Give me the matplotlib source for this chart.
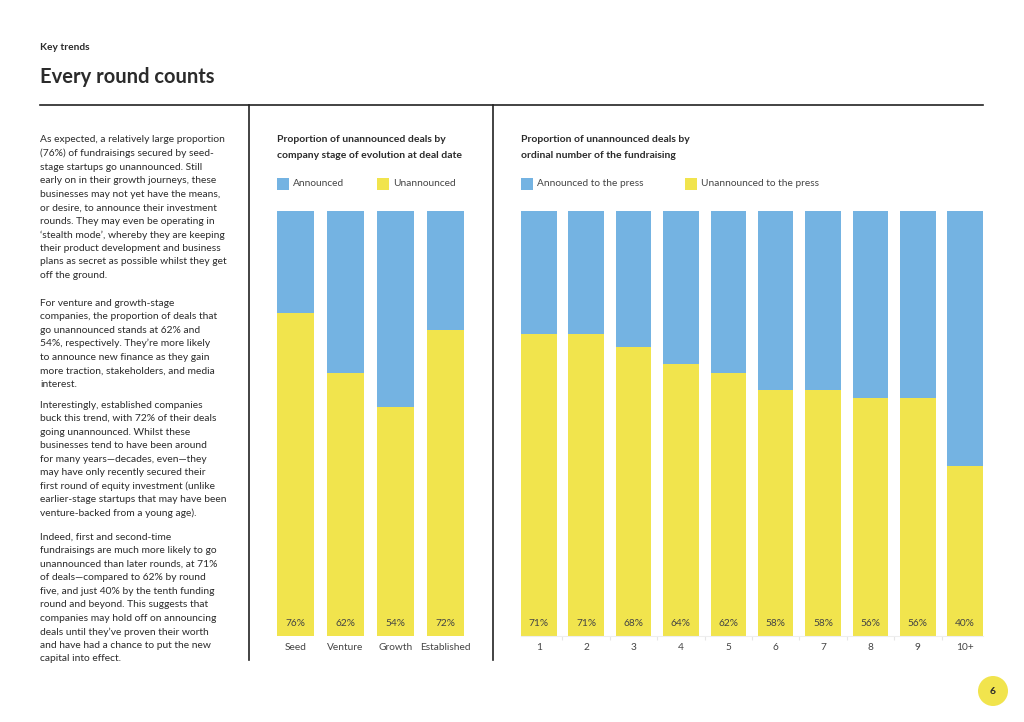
import matplotlib.pyplot as plt
from matplotlib.patches import Rectangle, Ellipse
from matplotlib.lines import Line2D
import numpy as np

plt.rcParams['font.family'] = ['Lato', 'DejaVu Sans']

W, H = 1024, 722
BLUE = '#74b3e2'
YELLOW = '#f1e44d'
TXT = '#2b2b2b'

# data
stages = ['Seed', 'Venture', 'Growth', 'Established']
stage_unannounced = [76, 62, 54, 72]
rounds = ['1', '2', '3', '4', '5', '6', '7', '8', '9', '10+']
round_unannounced = [71, 71, 68, 64, 62, 58, 58, 56, 56, 40]

para1 = ["As expected, a relatively large proportion",
         "(76%) of fundraisings secured by seed-",
         "stage startups go unannounced. Still",
         "early on in their growth journeys, these",
         "businesses may not yet have the means,",
         "or desire, to announce their investment",
         "rounds. They may even be operating in",
         "\u2018stealth mode\u2019, whereby they are keeping",
         "their product development and business",
         "plans as secret as possible whilst they get",
         "off the ground."]
para2 = ["For venture and growth-stage",
         "companies, the proportion of deals that",
         "go unannounced stands at 62% and",
         "54%, respectively. They\u2019re more likely",
         "to announce new finance as they gain",
         "more traction, stakeholders, and media",
         "interest."]
para3 = ["Interestingly, established companies",
         "buck this trend, with 72% of their deals",
         "going unannounced. Whilst these",
         "businesses tend to have been around",
         "for many years\u2014decades, even\u2014they",
         "may have only recently secured their",
         "first round of equity investment (unlike",
         "earlier-stage startups that may have been",
         "venture-backed from a young age)."]
para4 = ["Indeed, first and second-time",
         "fundraisings are much more likely to go",
         "unannounced than later rounds, at 71%",
         "of deals\u2014compared to 62% by round",
         "five, and just 40% by the tenth funding",
         "round and beyond. This suggests that",
         "companies may hold off on announcing",
         "deals until they\u2019ve proven their worth",
         "and have had a chance to put the new",
         "capital into effect."]


def fx(x):
    return x / W


def fy(y):
    return 1 - y / H


def ptext(x, y, s, **kw):
    kw.setdefault('color', TXT)
    kw.setdefault('va', 'center')
    fig.text(fx(x), fy(y), s, **kw)


fig = plt.figure(figsize=(W / 100, H / 100), dpi=100)
fig.patch.set_facecolor('white')

# header
ptext(40, 47, 'Key trends', fontsize=7.3, fontweight='bold')
ptext(40, 77, 'Every round counts', fontsize=14.5, fontweight='bold')
fig.add_artist(Line2D([fx(40), fx(983)], [fy(105), fy(105)], color='#222222', lw=1.2))
for vx in [249, 493]:
    fig.add_artist(Line2D([fx(vx), fx(vx)], [fy(105), fy(660)], color='#222222', lw=1.2))

# body text
for start, lines in [(140, para1), (303, para2), (405, para3), (537, para4)]:
    for i, line in enumerate(lines):
        ptext(40, start + i * 13.55, line, fontsize=7.4)


def legend(y, labels, xs):
    for lab, col, lx in zip(labels, [BLUE, YELLOW], xs):
        fig.add_artist(Rectangle((fx(lx), fy(y + 6)), 12 / W, 12 / H,
                                 transform=fig.transFigure, facecolor=col, edgecolor='none'))
        ptext(lx + 16, y, lab, fontsize=7.3, color='#444444')


def chart(left, right, cats, unann, width, title, baseline=False):
    ax = fig.add_axes([fx(left), fy(636), (right - left) / W, 425 / H])
    x = np.arange(len(cats))
    ann = [100 - v for v in unann]
    ax.bar(x, unann, width=width, color=YELLOW, zorder=2)
    ax.bar(x, ann, bottom=unann, width=width, color=BLUE, zorder=2)
    for xi, v in zip(x, unann):
        ax.text(xi, 2.9, f'{v}%', ha='center', va='center', fontsize=7.3, color='#444444', zorder=3)
    half = width / 2
    ax.set_xlim(-half, len(cats) - 1 + half)
    ax.set_ylim(0, 100)
    ax.set_xticks(x)
    ax.set_xticklabels(cats, fontsize=7.3, color='#444444')
    ax.tick_params(axis='x', length=0, pad=5)
    ax.set_yticks([])
    for s in ax.spines.values():
        s.set_visible(False)
    if baseline:
        ax.spines['bottom'].set_visible(True)
        ax.spines['bottom'].set_color('#eeeeee')
        ax.spines['bottom'].set_linewidth(0.8)
        ax.set_xticks(x[:-1] + 0.5, minor=True)
        ax.tick_params(axis='x', which='minor', length=3, color='#e6e6e6', width=0.8)
    ptext(left, 140, title[0], fontsize=7.5, fontweight='bold')
    ptext(left, 155, title[1], fontsize=7.5, fontweight='bold')
    return ax


chart(277, 464, stages, stage_unannounced, 0.74,
      ['Proportion of unannounced deals by', 'company stage of evolution at deal date'])
legend(184, ['Announced', 'Unannounced'], [277, 377])

chart(521, 983, rounds, round_unannounced, 0.75,
      ['Proportion of unannounced deals by', 'ordinal number of the fundraising'], baseline=True)
legend(184, ['Announced to the press', 'Unannounced to the press'], [521, 685])

# page number
fig.add_artist(Ellipse((fx(993), fy(691)), 30 / W, 30 / H, transform=fig.transFigure,
                       facecolor=YELLOW, edgecolor='none'))
ptext(993, 691, '6', fontsize=7.5, fontweight='bold', ha='center')

fig.savefig('out.png', dpi=100)
